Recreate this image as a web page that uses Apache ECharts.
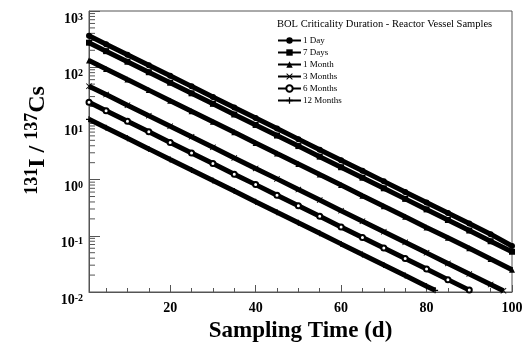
<!DOCTYPE html>
<html>
<head>
<meta charset="utf-8">
<script src="https://cdn.jsdelivr.net/npm/echarts@6/dist/echarts.min.js"></script>
<style>
  html, body { margin: 0; padding: 0; background: #fff; }
  #chart { width: 523px; height: 350px; }
</style>
</head>
<body>
<div id="chart"></div>
<script>
// sampling days read along the x axis
const days = [1, 5, 10, 15, 20, 25, 30, 35, 40, 45, 50, 55, 60, 65, 70, 75, 80, 85, 90, 95, 100];

// 131I / 137Cs ratio (log scale)
const oneDay   = [363, 257, 167, 108, 70.3, 45.6, 29.6, 19.2, 12.5, 8.09, 5.25, 3.41, 2.21, 1.44, 0.93, 0.60, 0.39, 0.254, 0.165, 0.107, 0.066];
const sevenDays = [273, 193, 125, 81.4, 52.9, 34.3, 22.3, 14.4, 9.38, 6.08, 3.95, 2.56, 1.66, 1.08, 0.70, 0.454, 0.295, 0.191, 0.124, 0.080, 0.052];
const oneMonth = [131, 92.8, 60.2, 39.1, 25.4, 16.5, 10.7, 6.93, 4.50, 2.92, 1.90, 1.23, 0.80, 0.518, 0.336, 0.218, 0.141, 0.092, 0.060, 0.0386, 0.025];
const threeMonths = [46, 32.6, 21.1, 13.7, 8.91, 5.78, 3.75, 2.43, 1.58, 1.03, 0.665, 0.432, 0.280, 0.182, 0.118, 0.0765, 0.0497, 0.0322, 0.0209, 0.0136, 0.0105];
const sixMonths = [23.7, 16.8, 10.9, 7.07, 4.59, 2.98, 1.93, 1.25, 0.814, 0.528, 0.343, 0.223, 0.144, 0.0937, 0.0608, 0.0394, 0.0256, 0.0166, 0.0108];
const twelveMonths = [11.8, 8.35, 5.42, 3.52, 2.28, 1.48, 0.962, 0.624, 0.405, 0.263, 0.171, 0.111, 0.0718, 0.0466, 0.0303, 0.0196, 0.0127, 0.0107];

// last sampled day of each curve (the shorter ones run off the bottom)
const lastDays = [100, 100, 100, 98, 90, 82];
const seriesNames = ['1 Day', '7 Days', '1 Month', '3 Months', '6 Months', '12 Months'];
const seriesValues = [oneDay, sevenDays, oneMonth, threeMonths, sixMonths, twelveMonths];

const xTickLabels = [20, 40, 60, 80, 100];
const xMinorTicks = [5, 10, 15, 20, 25, 30, 35, 40, 45, 50, 55, 60, 65, 70, 75, 80, 85, 90, 95, 100];
const yMinorMantissas = [2, 3, 4, 5, 6, 7, 8, 9];

const symbols = [
  'circle',
  'rect',
  'triangle',
  'path://M0,1L1,0L5,4L9,0L10,1L6,5L10,9L9,10L5,6L1,10L0,9L4,5Z',
  'emptyCircle',
  'path://M4,0H6V4H10V6H6V10H4V6H0V4H4Z',
];

const serif = '"Liberation Serif", "DejaVu Serif", serif';
const axisGrey = '#555';

const pairsFor = (values, lastDay) => {
  const xs = days.filter((d) => d < lastDay).concat(lastDay);
  return values.map((v, i) => [xs[i], v]);
};

const minorY = [];
for (let e = -2; e < 3; e++) {
  yMinorMantissas.forEach((m) => minorY.push([1, +(m * Math.pow(10, e)).toPrecision(3)]));
}

const chart = echarts.init(document.getElementById('chart'));

const option = {
  animation: false,
  backgroundColor: '#fff',
  title: {
    text: 'BOL Criticality Duration - Reactor Vessel Samples',
    left: 277,
    top: 19,
    padding: 0,
    textStyle: { fontFamily: serif, fontWeight: 'normal', fontSize: 10.5, color: '#000' },
  },
  legend: {
    orient: 'vertical',
    left: 277,
    top: 36,
    padding: 0,
    itemWidth: 23,
    itemHeight: 8,
    itemGap: 3,
    data: seriesNames,
    textStyle: { fontFamily: serif, fontSize: 9, color: '#000', padding: [0, 0, 0, -3] },
  },
  grid: {
    left: 89,
    right: 11,
    top: 11,
    bottom: 58,
    show: true,
    borderColor: axisGrey,
    borderWidth: 1,
    outerBoundsMode: 'none',
  },
  xAxis: [
    {
      type: 'value',
      min: 1,
      max: 100,
      name: 'Sampling Time (d)',
      nameLocation: 'middle',
      nameGap: 28,
      nameTextStyle: { fontFamily: serif, fontWeight: 'bold', fontSize: 23, color: '#000' },
      axisLine: { onZero: false, lineStyle: { color: axisGrey } },
      axisTick: { inside: true, length: 4, customValues: xMinorTicks, lineStyle: { color: axisGrey } },
      axisLabel: {
        margin: 9,
        customValues: xTickLabels,
        fontFamily: serif,
        fontWeight: 'bold',
        fontSize: 14,
        color: '#000',
      },
      splitLine: { show: false },
    },
    {
      type: 'value',
      min: 1,
      max: 100,
      position: 'bottom',
      axisLine: { show: false, onZero: false },
      axisTick: { inside: true, length: 7, customValues: xTickLabels, lineStyle: { color: axisGrey } },
      axisLabel: { show: false },
      splitLine: { show: false },
    },
  ],
  yAxis: {
    type: 'log',
    logBase: 10,
    min: 0.01,
    max: 1000,
    name: '{s|131}{b|I / }{s|137}{b|Cs}',
    nameLocation: 'middle',
    nameGap: 39,
    nameTextStyle: {
      padding: [0, 0, 0, 22],
      rich: {
        b: { fontFamily: serif, fontWeight: 'bold', fontSize: 24, color: '#000', lineHeight: 26, verticalAlign: 'bottom' },
        s: { fontFamily: serif, fontWeight: 'bold', fontSize: 18, color: '#000', lineHeight: 18, verticalAlign: 'top' },
      },
    },
    axisLine: { lineStyle: { color: axisGrey } },
    axisTick: { inside: true, length: 11, lineStyle: { color: axisGrey } },
    axisLabel: {
      margin: 6,
      verticalAlign: 'top',
      padding: [1, 0, 0, 0],
      formatter: (v) => '{b|10}{s|' + Math.round(Math.log10(v)) + '}',
      rich: {
        b: { fontFamily: serif, fontWeight: 'bold', fontSize: 14, color: '#000', lineHeight: 14, verticalAlign: 'bottom' },
        s: { fontFamily: serif, fontWeight: 'bold', fontSize: 10, color: '#000', lineHeight: 14, verticalAlign: 'top' },
      },
    },
    splitLine: { show: false },
  },
  series: [
    ...seriesNames.map((name, i) => ({
      name,
      type: 'line',
      data: pairsFor(seriesValues[i], lastDays[i]),
      symbol: symbols[i],
      symbolSize: symbols[i] === 'emptyCircle' ? 5 : 6,
      showAllSymbol: true,
      clip: false,
      lineStyle: { color: '#000', width: 5 },
      itemStyle: symbols[i] === 'emptyCircle'
        ? { color: '#000', borderWidth: 1.5 }
        : { color: '#000' },
    })),
    {
      type: 'custom',
      silent: true,
      data: minorY,
      renderItem: (params, api) => {
        const p = api.coord([api.value(0), api.value(1)]);
        return {
          type: 'line',
          shape: { x1: p[0], y1: p[1], x2: p[0] + 6, y2: p[1] },
          style: { stroke: axisGrey, lineWidth: 1 },
        };
      },
    },
  ],
};

chart.setOption(option);
</script>
</body>
</html>
